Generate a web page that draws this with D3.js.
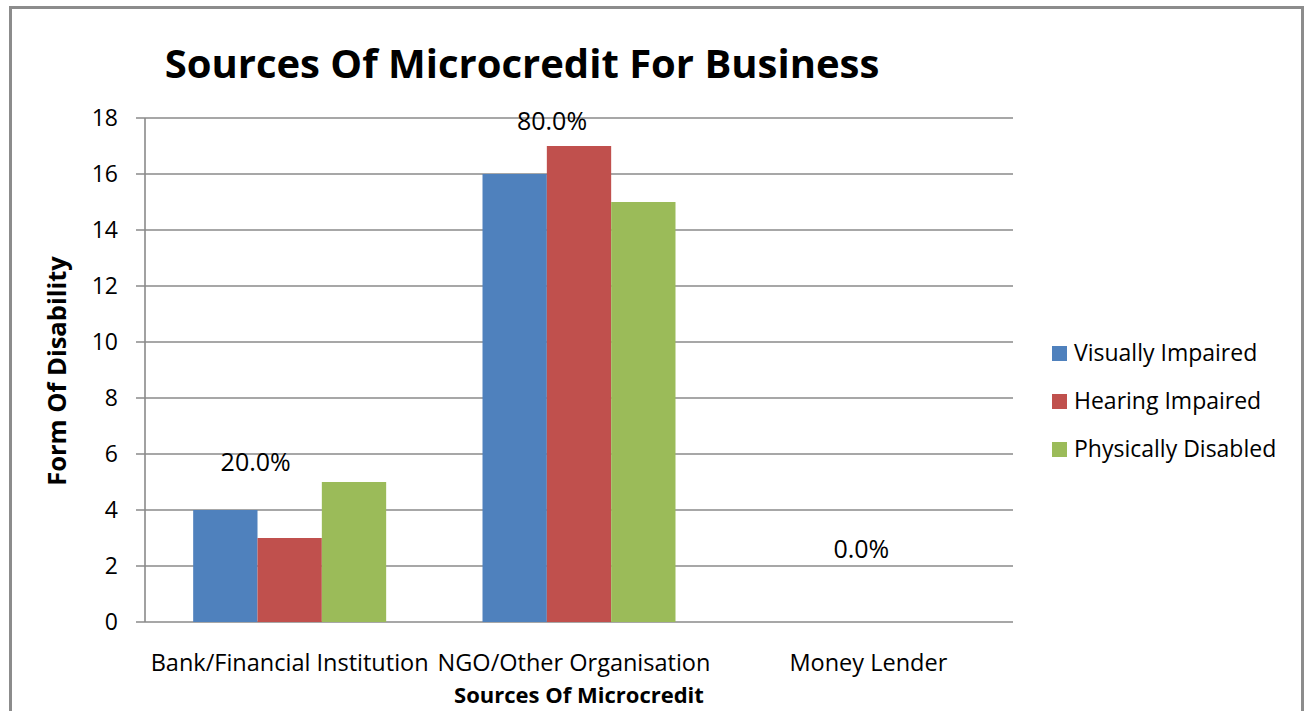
<!DOCTYPE html>
<html>
<head>
<meta charset="utf-8">
<script src="https://cdn.jsdelivr.net/npm/d3@7"></script>
<style>
  body { margin: 0; background: #fff; }
  svg { display: block; }
  text { font-family: "Open Sans", "Liberation Sans", sans-serif; fill: #000; }
</style>
</head>
<body>
<svg width="1304" height="711"></svg>
<script>
// data
var categories = ["Bank/Financial Institution", "NGO/Other Organisation", "Money Lender"];
var seriesNames = ["Visually Impaired", "Hearing Impaired", "Physically Disabled"];
var seriesColors = ["#4F81BD", "#C0504D", "#9BBB59"];
var visuallyImpaired = [4, 16, 0];
var hearingImpaired = [3, 17, 0];
var physicallyDisabled = [5, 15, 0];
var pctLabels = ["20.0%", "80.0%", "0.0%"];
var pctLabelAt = [5.7, 17.9, 2.6];   // where the % labels sit (value units)
var yTicks = [0, 2, 4, 6, 8, 10, 12, 14, 16, 18];

var series = [visuallyImpaired, hearingImpaired, physicallyDisabled];

var svg = d3.select("svg");

// chart border
svg.append("rect")
   .attr("x", 10.5).attr("y", 7.5)
   .attr("width", 1292).attr("height", 720)
   .attr("fill", "none")
   .attr("stroke", "#8c8c8c")
   .attr("stroke-width", 3);

var pLeft = 145, pRight = 1013, pTop = 118, pBottom = 622;

var xScale = d3.scaleBand().domain(categories).range([pLeft, pRight]).paddingInner(0.333).paddingOuter(0.1665);
var xInner = d3.scaleBand().domain(d3.range(series.length)).range([0, xScale.bandwidth()]);
var yScale = d3.scaleLinear().domain([0, 18]).range([pBottom, pTop]);

// gridlines
svg.append("g")
   .selectAll("line")
   .data(yTicks)
   .enter().append("line")
   .attr("x1", pLeft - 9).attr("x2", pRight)
   .attr("y1", function(d) { return yScale(d); })
   .attr("y2", function(d) { return yScale(d); })
   .attr("stroke", "#8a8a8a")
   .attr("stroke-width", 1.6);

// y axis line
svg.append("line")
   .attr("x1", pLeft).attr("x2", pLeft)
   .attr("y1", pTop).attr("y2", pBottom)
   .attr("stroke", "#8a8a8a")
   .attr("stroke-width", 1.6);

// y tick labels
svg.append("g")
   .selectAll("text")
   .data(yTicks)
   .enter().append("text")
   .attr("x", 118)
   .attr("y", function(d) { return yScale(d); })
   .attr("dy", "0.36em")
   .attr("text-anchor", "end")
   .style("font-size", "23px")
   .text(function(d) { return d; });

// bars
var groups = svg.append("g")
   .selectAll("g")
   .data(categories)
   .enter().append("g")
   .attr("transform", function(d) { return "translate(" + xScale(d) + ",0)"; });

groups.selectAll("rect")
   .data(function(d, i) { return series.map(function(s, j) { return { s: j, v: s[i] }; }); })
   .enter().append("rect")
   .attr("x", function(d) { return xInner(d.s); })
   .attr("y", function(d) { return yScale(d.v); })
   .attr("width", xInner.bandwidth())
   .attr("height", function(d) { return pBottom - yScale(d.v); })
   .attr("fill", function(d) { return seriesColors[d.s]; });

// percentage labels (nudged left of the group centre like the original)
var pctShift = [-34, -27, -7];
svg.append("g")
   .selectAll("text")
   .data(categories)
   .enter().append("text")
   .attr("x", function(d, i) { return xScale(d) + xScale.bandwidth() / 2 + pctShift[i]; })
   .attr("y", function(d, i) { return yScale(pctLabelAt[i]); })
   .attr("dy", "0.36em")
   .attr("text-anchor", "middle")
   .style("font-size", "25px")
   .text(function(d, i) { return pctLabels[i]; });

// category labels
svg.append("g")
   .selectAll("text")
   .data(categories)
   .enter().append("text")
   .attr("x", function(d, i) { return xScale(d) + xScale.bandwidth() / 2 - (i == 1 ? 5 : 0); })
   .attr("y", 663)
   .attr("dy", "0.36em")
   .attr("text-anchor", "middle")
   .style("font-size", "23.5px")
   .text(function(d) { return d; });

// title
svg.append("text")
   .attr("x", 522).attr("y", 78)
   .attr("text-anchor", "middle")
   .style("font-size", "40px")
   .style("font-weight", "bold")
   .text("Sources Of Microcredit For Business");

// axis titles
svg.append("text")
   .attr("x", 579).attr("y", 695)
   .attr("dy", "0.36em")
   .attr("text-anchor", "middle")
   .style("font-size", "22px")
   .style("font-weight", "bold")
   .text("Sources Of Microcredit");

svg.append("text")
   .attr("transform", "translate(57,371) rotate(-90)")
   .attr("dy", "0.36em")
   .attr("text-anchor", "middle")
   .style("font-size", "25.5px")
   .style("font-weight", "bold")
   .text("Form Of Disability");

// legend
var legend = svg.append("g")
   .selectAll("g")
   .data(seriesNames)
   .enter().append("g")
   .attr("transform", function(d, i) { return "translate(1052," + (353 + i * 48) + ")"; });

legend.append("rect")
   .attr("x", 0).attr("y", -7)
   .attr("width", 15).attr("height", 15)
   .attr("fill", function(d, i) { return seriesColors[i]; });

legend.append("text")
   .attr("x", 22).attr("y", 0)
   .attr("dy", "0.36em")
   .style("font-size", "23px")
   .text(function(d) { return d; });
</script>
</body>
</html>
